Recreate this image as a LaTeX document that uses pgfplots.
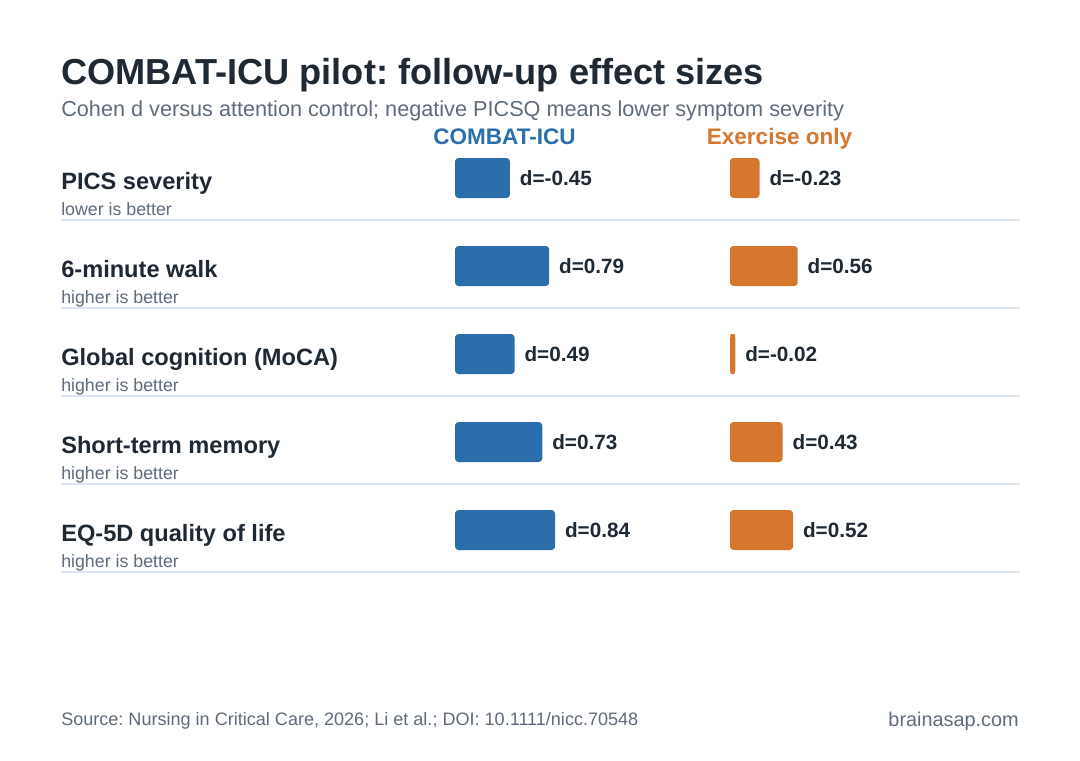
\documentclass[border=0pt]{standalone}
\usepackage{pgfplots}
\pgfplotsset{compat=1.18}
\usepackage{pgfplotstable}
\usepackage{fontspec}
\setmainfont{Liberation Sans}
\frenchspacing

\definecolor{ink}{HTML}{1F2933}
\definecolor{muted}{HTML}{5F6B7A}
\definecolor{combat}{HTML}{2A6EAB}
\definecolor{exer}{HTML}{D6762F}
\definecolor{rulecol}{HTML}{DDE5EE}

% Cohen d at follow-up, one row per outcome
\pgfplotstableread{
row combat exer
0 -0.45 -0.23
1 0.79 0.56
2 0.49 -0.02
3 0.73 0.43
4 0.84 0.52
}\effects

\pgfplotsset{
  effectbars/.style={
    anchor=origin, x=83.16pt, y=63.36pt, y dir=reverse,
    xmin=0, xmax=1.3, ymin=-0.5, ymax=4.5,
    hide axis, clip=false, xbar, bar width=26.64pt,
  },
  effectbar/.style={
    fill=#1, draw=#1, line width=2.16pt, line join=round, rounded corners=1.6pt,
    point meta=explicit,
    nodes near coords={d=\pgfmathprintnumber[fixed, fixed zerofill, precision=2, assume math mode=true]{\pgfplotspointmeta}},
    every node near coord/.append style={anchor=west, xshift=7.2pt, inner sep=0pt,
      font=\fontsize{14.9}{18}\selectfont\bfseries, text=ink},
  },
}

\begin{document}
\begin{tikzpicture}[x=0.72pt, y=-0.72pt]
\path (0,0) rectangle (1080,760);

% titles
\node[anchor=base west, inner sep=0pt, text=ink, font=\fontsize{26.05}{30}\selectfont\bfseries] at (61,84) {COMBAT-ICU pilot: follow-up effect sizes};
\node[anchor=base west, inner sep=0pt, text=muted, font=\fontsize{15.6}{18}\selectfont] at (61,116) {Cohen d versus attention control; negative PICSQ means lower symptom severity};

% column headers
\node[anchor=base, inner sep=0pt, text=combat, font=\fontsize{16.2}{19}\selectfont\bfseries] at (504.5,144) {COMBAT-ICU};
\node[anchor=base, inner sep=0pt, text=exer, font=\fontsize{16.2}{19}\selectfont\bfseries] at (779.5,144) {Exercise only};

% row labels and separators
\foreach \lab/\sub [count=\i from 0] in {PICS severity/lower is better, 6-minute walk/higher is better, Global cognition (MoCA)/higher is better, Short-term memory/higher is better, EQ-5D quality of life/higher is better}{
  \pgfmathsetmacro{\yc}{178+88*\i}
  \node[anchor=base west, inner sep=0pt, text=ink, font=\fontsize{17}{20}\selectfont\bfseries] at (61,\yc+11) {\lab};
  \node[anchor=base west, inner sep=0pt, text=muted, font=\fontsize{12.8}{15}\selectfont] at (61,\yc+37) {\sub};
  \draw[rulecol, line width=0.8pt] (61,\yc+42) -- (1020,\yc+42);
}

% COMBAT-ICU bars
\begin{axis}[effectbars, at={(328.68pt,-128.16pt)}]
\addplot[effectbar=combat] table[x expr={abs(\thisrow{combat})}, y=row, meta=combat] {\effects};
\end{axis}

% Exercise-only bars
\begin{axis}[effectbars, at={(526.68pt,-128.16pt)}]
\addplot[effectbar=exer] table[x expr={abs(\thisrow{exer})}, y=row, meta=exer] {\effects};
\end{axis}

% footer
\node[anchor=base west, inner sep=0pt, text=muted, font=\fontsize{13.0}{15}\selectfont] at (61,725) {Source: Nursing in Critical Care, 2026; Li et al.; DOI: 10.1111/nicc.70548};
\node[anchor=base east, inner sep=0pt, text=muted, font=\fontsize{14.3}{17}\selectfont] at (1019,726) {brainasap.com};
\end{tikzpicture}
\end{document}
